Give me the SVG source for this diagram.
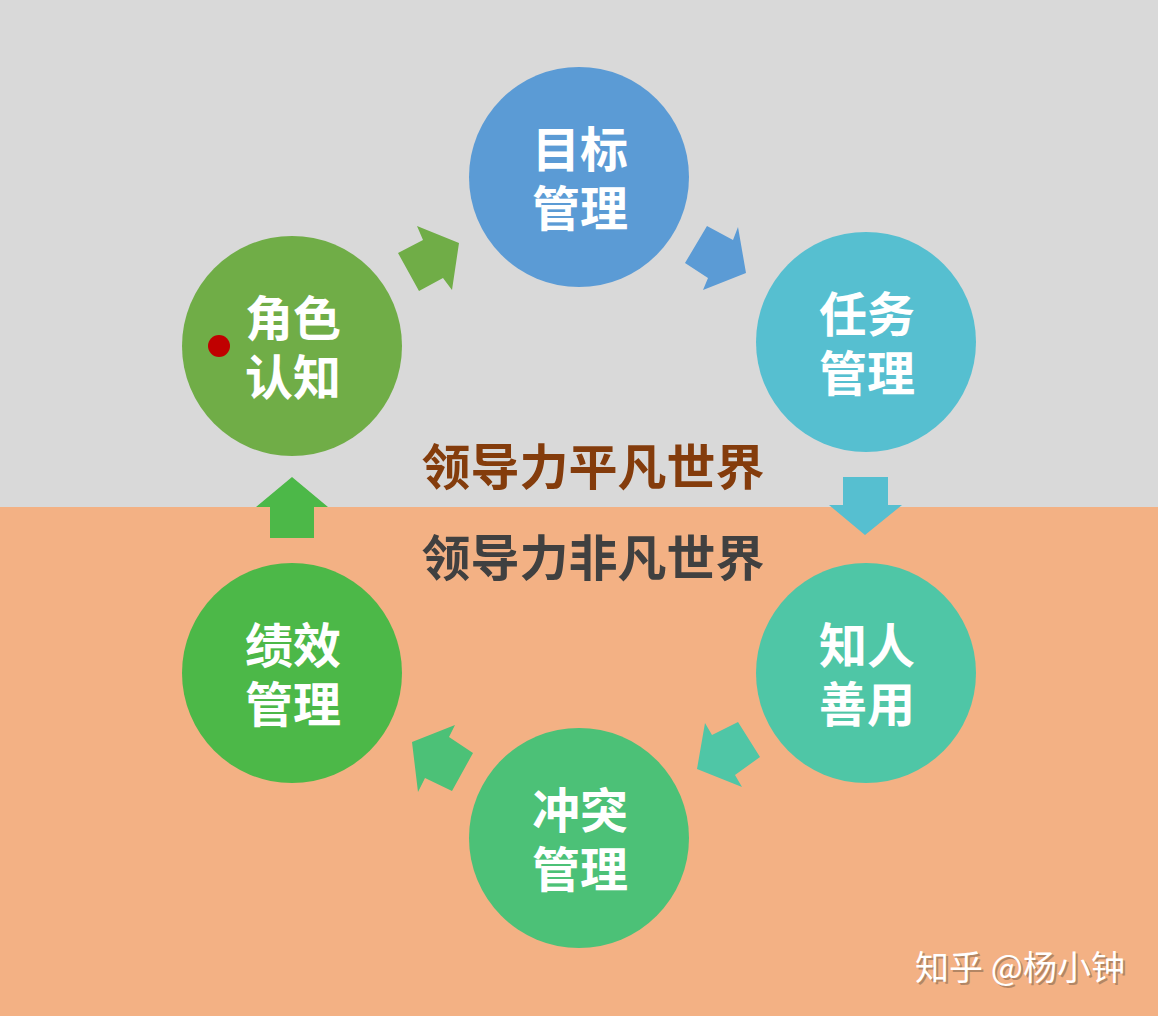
<svg xmlns="http://www.w3.org/2000/svg" width="1158" height="1016" viewBox="0 0 1158 1016">
<defs>
<style>
.lbl{font-family:"Noto Sans CJK SC","Noto Sans CJK JP",sans-serif;font-weight:bold;font-size:48px;fill:#ffffff;text-anchor:middle;dominant-baseline:central}
.mid{font-family:"Noto Sans CJK SC","Noto Sans CJK JP",sans-serif;font-weight:bold;font-size:49px;text-anchor:middle;dominant-baseline:central}
.wm{font-family:"Noto Sans CJK SC","Noto Sans CJK JP",sans-serif;font-size:34px;text-anchor:middle;dominant-baseline:central}
</style>
</defs>
<rect x="0" y="0" width="1158" height="507" fill="#d9d9d9"/>
<rect x="0" y="507" width="1158" height="509" fill="#f3b184"/>

<g id="connectors">
<polygon points="398,253 423,240 417,226 459,243 452,290 443,278 419,291" fill="#70ad47"/>
<polygon points="707,226 733,240 738,227 746,273 703,290 708,278 685,263" fill="#5b9bd5"/>
<polygon points="843,477 888,477 888,505 902,505 865,535 829,505 843,505" fill="#56bfd0"/>
<polygon points="705,723 712,735 738,722 760,757 735,775 742,787 697,769" fill="#4fc6a6"/>
<polygon points="455,725 449,737 473,753 452,791 425,778 418,792 412,742" fill="#4cc177"/>
<polygon points="292,477 328,507 314,507 314,538 270,538 270,507 256,507" fill="#4cb848"/>
</g>

<g id="node-mubiao">
<circle cx="579" cy="177" r="110" fill="#5b9bd5"/>
<text class="lbl"><tspan x="580" y="146">目标</tspan><tspan x="580" y="205">管理</tspan></text>
</g>
<g id="node-renwu">
<circle cx="866" cy="342" r="110" fill="#56bfd0"/>
<text class="lbl"><tspan x="867" y="311">任务</tspan><tspan x="867" y="370">管理</tspan></text>
</g>
<g id="node-zhiren">
<circle cx="866" cy="673" r="110" fill="#4fc6a6"/>
<text class="lbl"><tspan x="867" y="642">知人</tspan><tspan x="867" y="701">善用</tspan></text>
</g>
<g id="node-chongtu">
<circle cx="579" cy="838" r="110" fill="#4cc177"/>
<text class="lbl"><tspan x="580" y="807">冲突</tspan><tspan x="580" y="866">管理</tspan></text>
</g>
<g id="node-jixiao">
<circle cx="292" cy="673" r="110" fill="#4cb848"/>
<text class="lbl"><tspan x="293" y="642">绩效</tspan><tspan x="293" y="701">管理</tspan></text>
</g>
<g id="node-juese">
<circle cx="292" cy="346" r="110" fill="#70ad47"/>
<text class="lbl"><tspan x="293" y="315">角色</tspan><tspan x="293" y="374">认知</tspan></text>
<circle cx="219" cy="346" r="11" fill="#c00000"/>
</g>

<g id="center-text">
<text class="mid" x="593" y="463" fill="#843c0c">领导力平凡世界</text>
<text class="mid" x="593" y="554" fill="#404040">领导力非凡世界</text>
</g>

<g id="watermark">
<text class="wm" x="1022" y="967" fill="#8a6a50" opacity="0.6">知乎 @杨小钟</text>
<text class="wm" x="1020" y="965" fill="#ffffff">知乎 @杨小钟</text>
</g>
</svg>
